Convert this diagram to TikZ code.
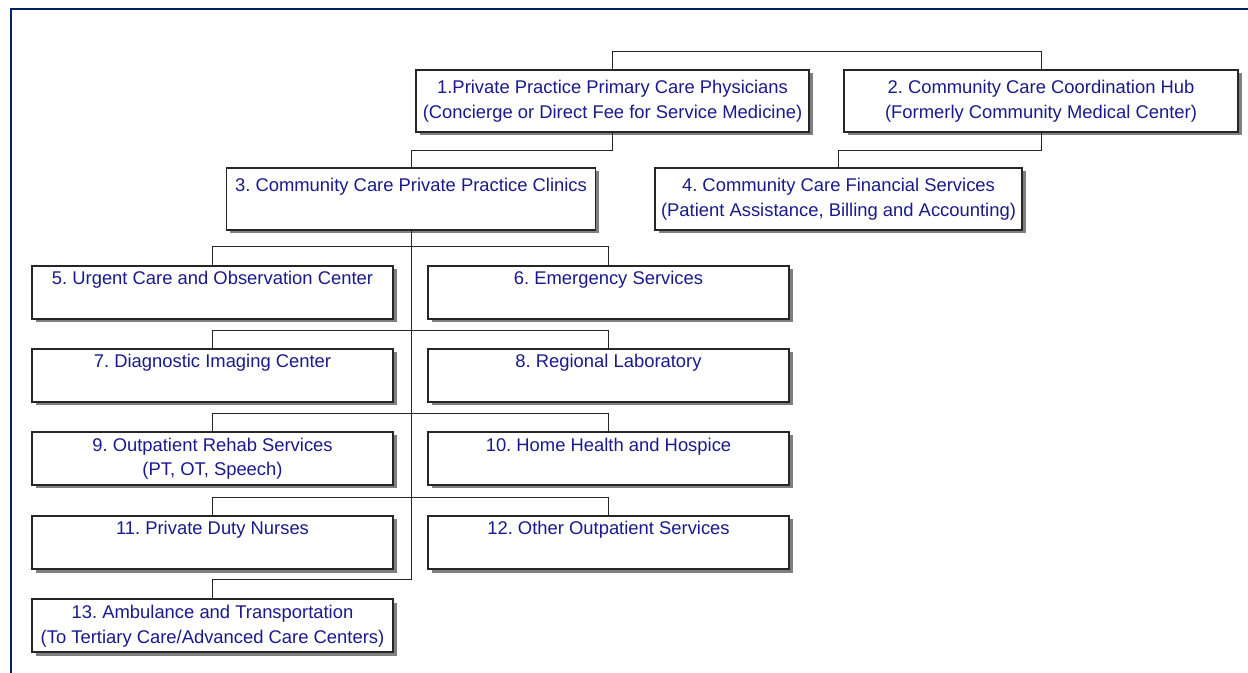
\documentclass[tikz,border=0pt]{standalone}
\usepackage{fontspec}
\setmainfont{Liberation Sans}
\usetikzlibrary{shadows,calc}
\definecolor{txtblue}{RGB}{26,26,140}
\definecolor{framecol}{RGB}{0,32,96}
\definecolor{shadowgray}{RGB}{128,128,128}
\tikzset{
  box/.style={draw=black!85, line width=0.6pt, fill=white, inner sep=0pt,
    align=center, text=txtblue,
    font=\fontsize{9.2}{12.5}\selectfont\frenchspacing,
    drop shadow={shadow xshift=1.75pt, shadow yshift=-1.75pt, fill=shadowgray, opacity=1}},
  bigbox/.style={box, minimum height=31pt},
  smallbox/.style={box, minimum width=180.5pt, minimum height=26.5pt},
  conn/.style={draw=black!85, line width=0.5pt}
}
\begin{document}
\begin{tikzpicture}[x=0.5pt,y=-0.5pt]
\useasboundingbox (0,0) rectangle (1248,673);
\draw[framecol, line width=1pt] (11,673) -- (11,9) -- (1248,9);

\node[bigbox, minimum width=196.5pt] (b1) at (612.5,101)
  {1.Private Practice Primary Care Physicians\strut\\(Concierge or Direct Fee for Service Medicine)\strut};
\node[bigbox, minimum width=197pt] (b2) at (1041,101)
  {2. Community Care Coordination Hub\strut\\(Formerly Community Medical Center)\strut};
\node[bigbox, minimum width=184.5pt] (b3) at (411,199)
  {3. Community Care Private Practice Clinics\strut\\\strut};
\node[bigbox, minimum width=183.5pt] (b4) at (838.5,199)
  {4. Community Care Financial Services\strut\\(Patient Assistance, Billing and Accounting)\strut};

\node[smallbox] (b5) at (212.5,292.5) {5. Urgent Care and Observation Center\strut\\\strut};
\node[smallbox] (b6) at (608.5,292.5) {6. Emergency Services\strut\\\strut};
\node[smallbox] (b7) at (212.5,375.5) {7. Diagnostic Imaging Center\strut\\\strut};
\node[smallbox] (b8) at (608.5,375.5) {8. Regional Laboratory\strut\\\strut};
\node[smallbox] (b9) at (212.5,458.5) {9. Outpatient Rehab Services\strut\\(PT, OT, Speech)\strut};
\node[smallbox] (b10) at (608.5,458.5) {10. Home Health and Hospice\strut\\\strut};
\node[smallbox] (b11) at (212.5,542.5) {11. Private Duty Nurses\strut\\\strut};
\node[smallbox] (b12) at (608.5,542.5) {12. Other Outpatient Services\strut\\\strut};
\node[smallbox] (b13) at (212.5,625.5) {13. Ambulance and Transportation\strut\\(To Tertiary Care/Advanced Care Centers)\strut};

% top level
\draw[conn] (b1.north) -- ++(0,-18) -| (b2.north);
\draw[conn] (b1.south) -- ++(0,18) -| (b3.north);
\draw[conn] (b2.south) -- ++(0,18) -| (b4.north);
% rows
\draw[conn] (b5.north) -- ++(0,-19) -| (b6.north);
\draw[conn] (b7.north) -- ++(0,-18) -| (b8.north);
\draw[conn] (b9.north) -- ++(0,-18) -| (b10.north);
\draw[conn] (b11.north) -- ++(0,-18) -| (b12.north);
% trunk
\draw[conn] (b3.south) |- ($(b13.north)+(0,-19)$) -- (b13.north);
\end{tikzpicture}
\end{document}
